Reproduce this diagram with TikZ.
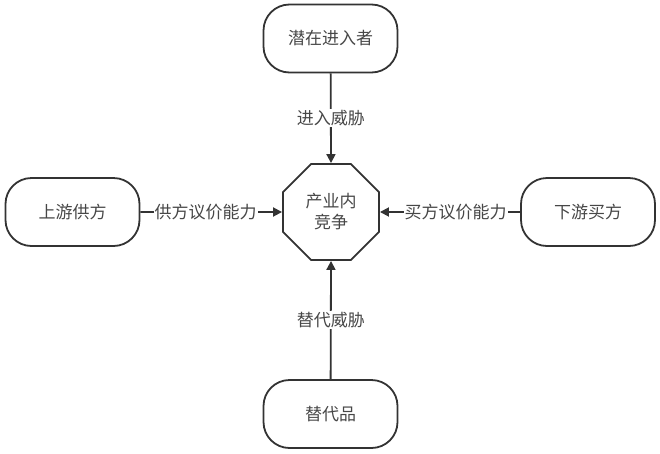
\documentclass[tikz,border=0pt]{standalone}
\usepackage{fontspec}
\setmainfont{Noto Sans CJK SC}
\usetikzlibrary{shapes.geometric,arrows.meta}
\definecolor{ink}{HTML}{333333}
\begin{document}
\begin{tikzpicture}[x=1pt,y=-1pt,
  box/.style={draw=ink,line width=1.8pt,rounded corners=26pt,minimum width=134pt,minimum height=68pt,inner sep=0pt,font=\fontsize{17}{20}\selectfont,text=ink!90},
  oct/.style={draw=ink,line width=1.8pt,regular polygon,regular polygon sides=8,minimum size=104pt,inner sep=0pt,font=\fontsize{17}{21}\selectfont,text=ink!90,align=center},
  lbl/.style={fill=white,inner sep=1pt,font=\fontsize{17}{20}\selectfont,text=ink!90},
  conn/.style={draw=ink,line width=1.8pt,-{Triangle[length=9pt,width=9pt]}}]
\useasboundingbox (0,0) rectangle (660,453);
\node[box] (top) at (330.5,38.5) {潜在进入者};
\node[box] (bot) at (330.5,414) {替代品};
\node[box] (left) at (72.5,212) {上游供方};
\node[box] (right) at (588,212) {下游买方};
\node[oct] (c) at (331,212) {产业内\\竞争};
\draw[conn] (top) -- node[lbl] {进入威胁} (c.north);
\draw[conn] (bot) -- node[lbl] {替代威胁} (c.south);
\draw[conn] (left) -- node[lbl,pos=0.46] {供方议价能力} (c.west);
\draw[conn] (right) -- node[lbl,pos=0.46] {买方议价能力} (c.east);
\end{tikzpicture}
\end{document}
